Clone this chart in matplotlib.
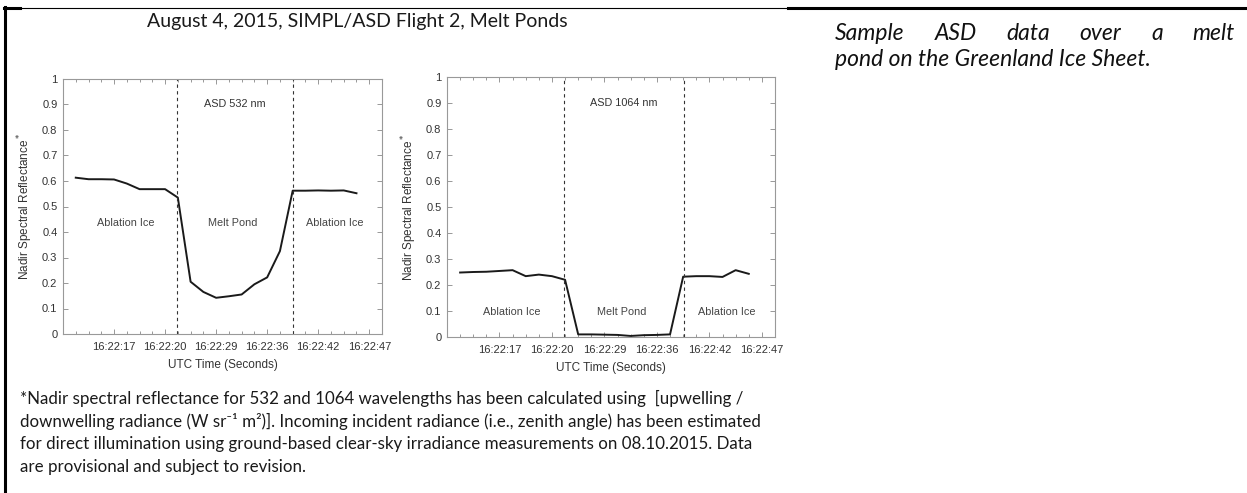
import numpy as np
import matplotlib
matplotlib.use("Agg")
import matplotlib.pyplot as plt
from matplotlib.lines import Line2D

W, H = 1247, 493

# sample index along the flight track
samples = list(range(1, 24))
refl_532 = [0.613, 0.607, 0.607, 0.606, 0.590, 0.568, 0.568, 0.568, 0.535,
            0.205, 0.165, 0.142, 0.148, 0.155, 0.195, 0.222, 0.325,
            0.562, 0.562, 0.563, 0.562, 0.563, 0.552]
refl_1064 = [0.248, 0.250, 0.251, 0.254, 0.257, 0.234, 0.240, 0.234, 0.220,
             0.010, 0.010, 0.009, 0.008, 0.004, 0.007, 0.008, 0.010,
             0.232, 0.234, 0.234, 0.231, 0.257, 0.243]
pond_edges = [8.9, 18.05]
tick_pos = [4, 8, 12, 16, 20, 24]
tick_labels = ["16:22:17", "16:22:20", "16:22:29", "16:22:36", "16:22:42", "16:22:47"]
region_names = ["Ablation Ice", "Melt Pond", "Ablation Ice"]
region_x = [4.9, 13.3, 21.3]

title = "August 4, 2015, SIMPL/ASD Flight 2, Melt Ponds"
caption_words = ["Sample", "ASD", "data", "over", "a", "melt"]
caption_line2 = "pond on the Greenland Ice Sheet."
footnote = [
    "*Nadir spectral reflectance for 532 and 1064 wavelengths has been calculated using  [upwelling /",
    "downwelling radiance (W sr\u207b\u00b9 m\u00b2)]. Incoming incident radiance (i.e., zenith angle) has been estimated",
    "for direct illumination using ground-based clear-sky irradiance measurements on 08.10.2015. Data",
    "are provisional and subject to revision.",
]

doc_font = ["Lato", "DejaVu Sans"]
ax_font = "Liberation Sans"


def px_rect(left, top, right, bottom):
    return [left / W, 1 - bottom / H, (right - left) / W, (bottom - top) / H]


fig = plt.figure(figsize=(W / 100, H / 100), dpi=100)
fig.patch.set_facecolor("white")


def draw_panel(rect, values, label, region_y):
    ax = fig.add_axes(rect)
    ax.plot(samples, values, color="#1a1a1a", lw=1.4)
    for e in pond_edges:
        ax.axvline(e, color="#333333", lw=0.8, ls=(0, (3, 3)))
    ax.set_xlim(0, 25)
    ax.set_ylim(0, 1)
    ax.set_xticks(tick_pos)
    ax.set_xticklabels(tick_labels)
    ax.set_xticks(np.arange(1, 25), minor=True)
    ax.set_yticks(np.arange(0, 1.01, 0.1))
    ax.set_yticklabels(["0"] + [f"{v:.1f}" for v in np.arange(0.1, 0.95, 0.1)] + ["1"])
    ax.tick_params(which="both", direction="in", top=True, right=True,
                   color="#888888", width=0.6, labelsize=8, labelcolor="#333333")
    ax.tick_params(axis="x", pad=6)
    ax.tick_params(axis="y", pad=4)
    ax.tick_params(which="major", length=3.5)
    ax.tick_params(which="minor", length=2.5)
    for lab in ax.get_xticklabels() + ax.get_yticklabels():
        lab.set_fontfamily(ax_font)
    for s in ax.spines.values():
        s.set_color("#999999")
        s.set_linewidth(0.8)
    ax.set_xlabel("UTC Time (Seconds)", fontsize=8.5, color="#333333", family=ax_font, labelpad=5)
    ax.set_ylabel("Nadir Spectral Reflectance$^*$", fontsize=8.5, color="#333333",
                  family=ax_font, labelpad=5)
    ax.text(13.5, 0.9, label, ha="center", va="center", fontsize=7.8,
            color="#333333", family=ax_font)
    for name, x in zip(region_names, region_x):
        ax.text(x, region_y, name, ha="center", va="center", fontsize=7.8,
                color="#444444", family=ax_font)
    return ax


draw_panel(px_rect(63, 79, 382, 334), refl_532, "ASD 532 nm", 0.437)
draw_panel(px_rect(447, 77, 775, 337), refl_1064, "ASD 1064 nm", 0.096)

fig.text(357 / W, 1 - 21 / H, title, ha="center", va="center", fontsize=14,
         family=doc_font, color="#1a1a1a")

for i, line in enumerate(footnote):
    fig.text(20 / W, 1 - (398 + 23 * i) / H, line, ha="left", va="center",
             fontsize=12.2, family=doc_font, color="#1a1a1a")

# justified first caption line
renderer = fig.canvas.get_renderer()
cap_texts = [fig.text(0, 1 - 34 / H, w, ha="left", va="center", fontsize=16.5,
                      style="italic", family=doc_font, color="#111111")
             for w in caption_words]
widths = [t.get_window_extent(renderer).width for t in cap_texts]
x0, x1 = 835, 1235
gap = (x1 - x0 - sum(widths)) / (len(widths) - 1)
x = x0
for t, w in zip(cap_texts, widths):
    t.set_x(x / W)
    x += w + gap
fig.text(x0 / W, 1 - 60 / H, caption_line2, ha="left", va="center", fontsize=16.5,
         style="italic", family=doc_font, color="#111111")

# table frame
frame = [
    ((5, 5), (7, H), 2.2),
    ((4, 20), (8, 8), 2.2),
    ((20, 788), (7.5, 7.5), 0.8),
    ((788, W), (8, 8), 2.2),
]
for xs, ys, lw in frame:
    fig.add_artist(Line2D([v / W for v in xs], [1 - v / H for v in ys],
                          transform=fig.transFigure, color="black", lw=lw))

fig.savefig("out.png", dpi=100)
